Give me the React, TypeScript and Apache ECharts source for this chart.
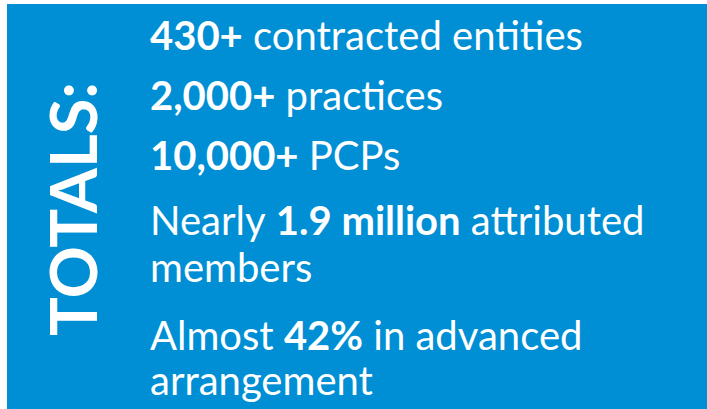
import React, { useEffect, useRef } from "react";
import * as echarts from "echarts";

const title = "TOTALS:";
// each line: segments in order; b = bold
const line1 = [{ t: "430+", b: true }, { t: " contracted entities", b: false }];
const line2 = [{ t: "2,000+", b: true }, { t: " practices", b: false }];
const line3 = [{ t: "10,000+", b: true }, { t: " PCPs", b: false }];
const line4 = [{ t: "Nearly ", b: false }, { t: "1.9 million", b: true }, { t: " attributed", b: false }];
const line5 = [{ t: "members", b: false }];
const line6 = [{ t: "Almost ", b: false }, { t: "42%", b: true }, { t: " in advanced", b: false }];
const line7 = [{ t: "arrangement", b: false }];
const lines = [line1, line2, line3, line4, line5, line6, line7];
const baselines = [48, 108, 168, 233, 280, 348, 393];

const FONT = "Lato";
const SIZE = 40;
const BLUE = "#008FD4";

export default function App() {
  const ref = useRef<HTMLDivElement>(null);
  useEffect(() => {
    if (!ref.current) return;
    const chart = echarts.init(ref.current, undefined, { renderer: "svg" });
    const els: any[] = [
      { type: "rect", shape: { x: 7, y: 4, width: 700, height: 405 }, style: { fill: BLUE } },
      {
        type: "text",
        x: 72,
        y: 209,
        rotation: Math.PI / 2,
        style: {
          text: title,
          fill: "#fff",
          font: `bold 65px ${FONT}`,
          align: "center",
          verticalAlign: "middle",
        },
      },
    ];
    lines.forEach((segs, i) => {
      const text = segs.map((s) => `{${s.b ? "b" : "r"}|${s.t}}`).join("");
      els.push({
        type: "text",
        x: 150,
        y: baselines[i] + 7,
        style: {
          text,
          fill: "#fff",
          align: "left",
          verticalAlign: "bottom",
          rich: {
            b: { fontFamily: FONT, fontWeight: "bold", fontSize: SIZE, fill: "#fff", lineHeight: SIZE },
            r: { fontFamily: FONT, fontWeight: "normal", fontSize: SIZE, fill: "#fff", lineHeight: SIZE },
          },
        },
      });
    });
    chart.setOption({ animation: false, backgroundColor: "#fff", graphic: { elements: els } });
    return () => chart.dispose();
  }, []);
  return <div ref={ref} style={{ position: "fixed", left: 0, top: 0, width: 707, height: 409 }} />;
}
